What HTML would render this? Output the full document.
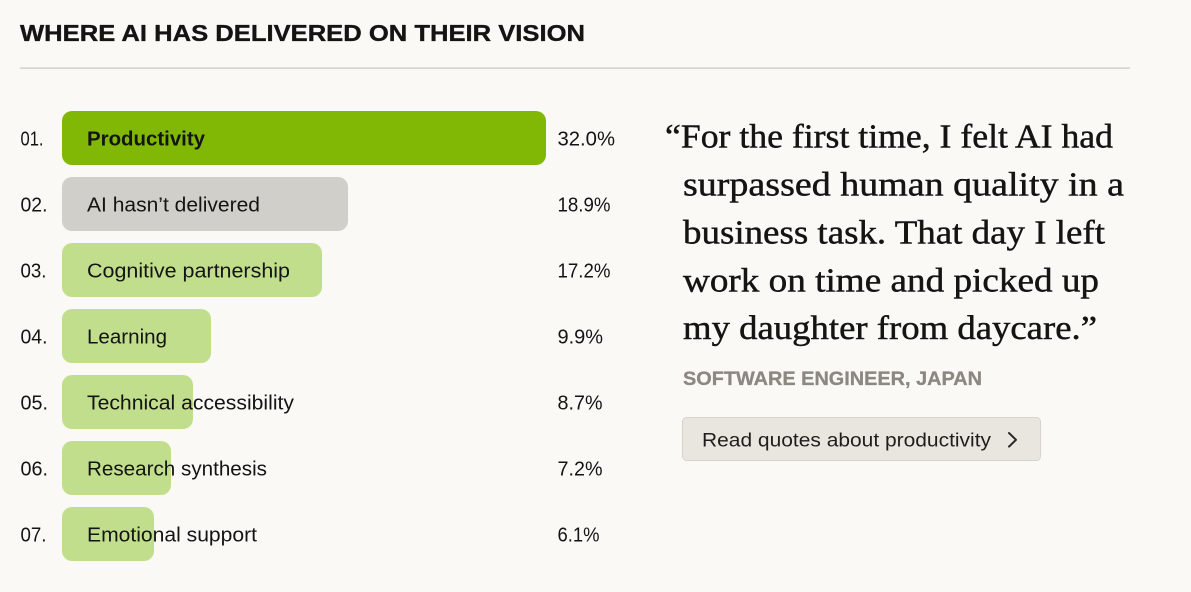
<!DOCTYPE html>
<html><head><meta charset="utf-8"><style>
html,body{margin:0;padding:0;background:#faf9f5;}
svg{display:block;}
</style></head><body>
<svg width="1191" height="592" viewBox="0 0 1191 592" xmlns="http://www.w3.org/2000/svg">
<rect width="1191" height="592" fill="#faf9f5"/>
<text x="20" y="41" font-family="Liberation Sans, sans-serif" font-weight="bold" font-size="23" fill="#141413" stroke="#141413" stroke-width="0.35" textLength="565" lengthAdjust="spacingAndGlyphs">WHERE AI HAS DELIVERED ON THEIR VISION</text>
<rect x="20" y="67.5" width="1110" height="1.2" fill="#c9c7c0"/>

<g font-family="Liberation Sans, sans-serif" font-size="20" fill="#141413">
<rect x="62" y="111" width="484" height="54" rx="10" fill="#80b805"/>
<rect x="62" y="177" width="286" height="54" rx="10" fill="#d1cfca"/>
<rect x="62" y="243" width="260" height="54" rx="10" fill="#c1de8d"/>
<rect x="62" y="309" width="149" height="54" rx="10" fill="#c1de8d"/>
<rect x="62" y="375" width="131" height="54" rx="10" fill="#c1de8d"/>
<rect x="62" y="441" width="109" height="54" rx="10" fill="#c1de8d"/>
<rect x="62" y="507" width="92" height="54" rx="10" fill="#c1de8d"/>

<text x="20.5" y="145.5" textLength="23" lengthAdjust="spacingAndGlyphs">01.</text>
<text x="20.5" y="211.5" textLength="27" lengthAdjust="spacingAndGlyphs">02.</text>
<text x="20.5" y="277.5" textLength="26" lengthAdjust="spacingAndGlyphs">03.</text>
<text x="20.5" y="343.5" textLength="27" lengthAdjust="spacingAndGlyphs">04.</text>
<text x="20.5" y="409.5" textLength="27.5" lengthAdjust="spacingAndGlyphs">05.</text>
<text x="20.5" y="475.5" textLength="27.5" lengthAdjust="spacingAndGlyphs">06.</text>
<text x="20.5" y="541.5" textLength="26" lengthAdjust="spacingAndGlyphs">07.</text>

<text x="87" y="145.5" font-weight="bold" textLength="118" lengthAdjust="spacingAndGlyphs">Productivity</text>
<text x="87" y="211.5" textLength="173" lengthAdjust="spacingAndGlyphs">AI hasn’t delivered</text>
<text x="87" y="277.5" textLength="203" lengthAdjust="spacingAndGlyphs">Cognitive partnership</text>
<text x="87" y="343.5" textLength="80" lengthAdjust="spacingAndGlyphs">Learning</text>
<text x="87" y="409.5" textLength="207" lengthAdjust="spacingAndGlyphs">Technical accessibility</text>
<text x="87" y="475.5" textLength="180" lengthAdjust="spacingAndGlyphs">Research synthesis</text>
<text x="87" y="541.5" textLength="170" lengthAdjust="spacingAndGlyphs">Emotional support</text>

<text x="557.5" y="145.5" textLength="57.5" lengthAdjust="spacingAndGlyphs">32.0%</text>
<text x="557.5" y="211.5" textLength="53" lengthAdjust="spacingAndGlyphs">18.9%</text>
<text x="557.5" y="277.5" textLength="53" lengthAdjust="spacingAndGlyphs">17.2%</text>
<text x="557.5" y="343.5" textLength="45.5" lengthAdjust="spacingAndGlyphs">9.9%</text>
<text x="557.5" y="409.5" textLength="45" lengthAdjust="spacingAndGlyphs">8.7%</text>
<text x="557.5" y="475.5" textLength="45" lengthAdjust="spacingAndGlyphs">7.2%</text>
<text x="557.5" y="541.5" textLength="42" lengthAdjust="spacingAndGlyphs">6.1%</text>
</g>

<g font-family="Liberation Serif, serif" font-size="34" fill="#141413" stroke="#141413" stroke-width="0.45">
<text x="665" y="147.5" textLength="448" lengthAdjust="spacingAndGlyphs">“For the first time, I felt AI had</text>
<text x="683" y="195.5" textLength="441" lengthAdjust="spacingAndGlyphs">surpassed human quality in a</text>
<text x="683" y="243.5" textLength="422" lengthAdjust="spacingAndGlyphs">business task. That day I left</text>
<text x="683" y="291.5" textLength="416" lengthAdjust="spacingAndGlyphs">work on time and picked up</text>
<text x="683" y="339" textLength="414" lengthAdjust="spacingAndGlyphs">my daughter from daycare.”</text>
</g>

<text x="683" y="385" font-family="Liberation Sans, sans-serif" font-weight="bold" font-size="19.5" fill="#8a8880" stroke="#8a8880" stroke-width="0.3" textLength="299" lengthAdjust="spacingAndGlyphs">SOFTWARE ENGINEER, JAPAN</text>

<rect x="682.5" y="417.5" width="358" height="43" rx="4" fill="#e8e6df" stroke="#d6d3cc" stroke-width="1"/>
<text x="702" y="446.5" font-family="Liberation Sans, sans-serif" font-size="19.5" fill="#1f1e1c" textLength="289" lengthAdjust="spacingAndGlyphs">Read quotes about productivity</text>
<path d="M1009 433 L1016 439.8 L1009 446.6" fill="none" stroke="#2a2927" stroke-width="2" stroke-linecap="round" stroke-linejoin="round"/>
</svg>
</body></html>
